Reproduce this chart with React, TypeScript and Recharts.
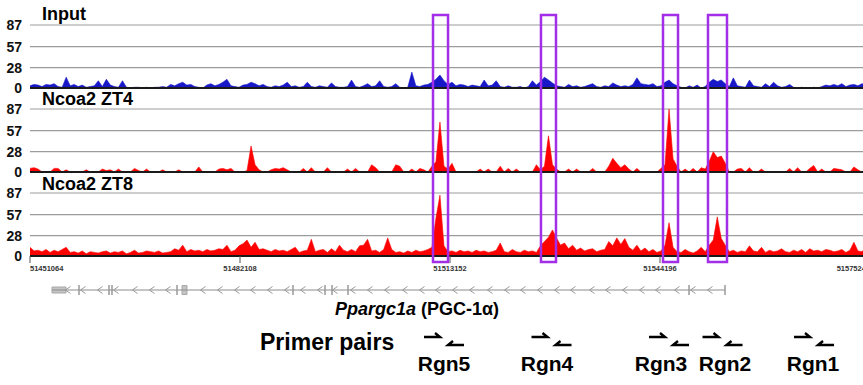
import {
  ComposedChart, Area, XAxis, YAxis, CartesianGrid, ReferenceLine, ReferenceArea, Scatter,
} from 'recharts';

document.body.style.margin = '0';

const FONT = '"Liberation Sans", Arial, sans-serif';

// genomic window shown (mm chr5)
const START = 51451064;
const END = 51575240;
const X_TICKS = [51451064, 51482108, 51513152, 51544196, 51575240];
const Y_TICKS = [0, 28, 57, 87];

const INPUT = [
  3, 5, 4, 2, 5, 4, 6, 2, 1, 15,
  3, 5, 2, 4, 1, 2, 3, 10, 2, 12,
  4, 2, 1, 10, 1, 0, 1, 1, 0, 1,
  0, 1, 1, 2, 1, 5, 3, 6, 8, 4,
  5, 2, 1, 0, 4, 6, 3, 5, 8, 12,
  3, 2, 1, 4, 5, 8, 6, 3, 5, 2,
  1, 3, 2, 4, 8, 2, 3, 1, 2, 8,
  2, 1, 3, 2, 1, 7, 2, 1, 1, 2,
  11, 2, 1, 3, 6, 2, 3, 10, 2, 1,
  2, 6, 1, 0, 1, 22, 3, 2, 4, 5,
  8, 12, 18, 10, 5, 8, 3, 5, 4, 2,
  4, 3, 2, 11, 3, 4, 10, 2, 1, 3,
  1, 1, 2, 0, 2, 10, 4, 9, 15, 11,
  7, 3, 2, 1, 5, 2, 3, 1, 2, 4,
  6, 2, 1, 3, 2, 7, 4, 2, 3, 2,
  5, 14, 6, 5, 4, 6, 2, 3, 8, 11,
  6, 3, 1, 0, 3, 1, 4, 0, 2, 8,
  12, 9, 11, 6, 2, 14, 3, 2, 1, 11,
  3, 2, 1, 6, 2, 8, 3, 1, 2, 5,
  1, 0, 1, 0, 0, 1, 0, 2, 4, 3,
  5, 3, 6, 2, 4, 5, 3, 6, 4, 3,
];

const ZT4 = [
  5, 6, 4, 0, 0, 0, 5, 5, 0, 3,
  0, 0, 0, 0, 3, 0, 0, 0, 4, 2,
  3, 0, 4, 0, 0, 0, 5, 2, 0, 4,
  0, 0, 0, 3, 0, 0, 0, 3, 0, 0,
  0, 0, 7, 0, 0, 0, 0, 4, 5, 3,
  5, 0, 0, 0, 2, 36, 10, 3, 0, 0,
  3, 5, 4, 6, 3, 0, 0, 0, 5, 0,
  6, 0, 0, 0, 6, 0, 0, 0, 0, 4,
  0, 5, 0, 0, 0, 10, 6, 0, 0, 0,
  0, 10, 8, 0, 0, 4, 0, 5, 3, 0,
  8, 14, 69, 8, 4, 12, 0, 0, 0, 0,
  0, 0, 4, 0, 4, 0, 0, 8, 0, 5,
  0, 4, 0, 0, 0, 0, 10, 3, 8, 50,
  10, 4, 0, 0, 4, 0, 4, 0, 0, 0,
  5, 0, 0, 0, 8, 19, 12, 6, 10, 4,
  0, 5, 0, 0, 0, 0, 0, 5, 10, 87,
  18, 8, 0, 4, 0, 5, 0, 6, 4, 15,
  28, 20, 22, 12, 0, 0, 4, 5, 0, 6,
  0, 0, 4, 0, 0, 0, 0, 0, 0, 5,
  0, 6, 0, 0, 5, 9, 0, 4, 0, 0,
  5, 4, 3, 0, 0, 7, 3, 0, 0, 0,
];

const ZT8 = [
  12, 7, 8, 6, 9, 5, 8, 6, 9, 12,
  5, 6, 4, 7, 3, 6, 5, 4, 6, 7,
  4, 6, 5, 7, 3, 5, 8, 4, 5, 7,
  6, 5, 7, 4, 5, 6, 10, 8, 15, 6,
  9, 7, 8, 6, 9, 7, 8, 10, 9, 15,
  6, 8, 14, 17, 22, 12, 19, 9, 10, 8,
  6, 9, 7, 8, 6, 9, 12, 5, 7, 8,
  23, 6, 8, 9, 5, 10, 6, 15, 8, 6,
  9, 6, 14, 15, 23, 7, 8, 5, 9, 25,
  9, 5, 6, 4, 7, 5, 8, 6, 7, 9,
  12, 52, 84, 14, 6, 7, 5, 8, 6, 7,
  5, 8, 6, 7, 5, 6, 8, 18, 6, 5,
  9, 6, 5, 8, 6, 7, 5, 14, 20, 26,
  36, 25, 15, 18, 10, 15, 8, 11, 7, 9,
  10, 6, 8, 9, 20, 14, 25, 16, 24, 12,
  8, 15, 7, 11, 6, 9, 5, 7, 15, 46,
  12, 6, 5, 9, 6, 4, 7, 12, 6, 15,
  22, 54, 24, 15, 6, 8, 5, 7, 6, 14,
  7, 6, 12, 5, 8, 6, 7, 10, 6, 5,
  8, 6, 9, 5, 10, 7, 8, 6, 9, 8,
  6, 7, 9, 5, 8, 19, 7, 6, 12, 8,
];

// highlighted peak regions [from, to]
const BOXES = [
  [51510640, 51512860],
  [51526600, 51528820],
  [51544640, 51546860],
  [51551290, 51554100],
];

// Ppargc1a gene model
const GENE = [51454316, 51553806];
const UTR = [51454316, 51456386];
const EXON_BLOCK = [51473534, 51474273];
const EXONS = [51458308, 51462743, 51463186, 51472795, 51489943, 51494674, 51495709, 51498074, 51548484, 51553806];
const CHEVRONS = [
  51456682, 51458899, 51461412, 51463777, 51466586, 51469099, 51471465, 51476639, 51479152, 51481665,
  51484030, 51486543, 51489056, 51491422, 51493935, 51496152, 51498813, 51501326, 51503839, 51506500,
  51509013, 51511379, 51513892, 51516405, 51519066, 51521579, 51523944, 51526457, 51528970, 51531336,
  51534144, 51536510, 51539023, 51541536, 51543901, 51546710, 51549075, 51551588,
];

// primer pairs
const PRIMER_NAMES = ['Rgn5', 'Rgn4', 'Rgn3', 'Rgn2', 'Rgn1'];
const PRIMER_POS = [51512266, 51528157, 51545527, 51553436, 51566963];
const LABEL_POS = [51512266, 51527492, 51544345, 51553806, 51566815];

const STEP = (END - START) / (INPUT.length - 1);
const toRows = (vals: number[]) => vals.map((v, i) => ({ pos: START + i * STEP, v }));

const GENE_Y = 290;

function GenomeTick({ x, y, payload }: any) {
  const v = payload.value;
  const anchor = v === X_TICKS[0] ? 'start' : v === X_TICKS[X_TICKS.length - 1] ? 'end' : 'middle';
  return (
    <text x={x} y={y} dy={6} textAnchor={anchor} fontSize={7.5} fontWeight="bold" fill="#333" fontFamily={FONT}>
      {v}
    </text>
  );
}

function Track({ values, color, top, withAxis }: { values: number[]; color: string; top: number; withAxis?: boolean }) {
  return (
    <div style={{ position: 'absolute', left: 0, top }}>
      <ComposedChart width={870} height={withAxis ? 104 : 92} data={toRows(values)}
        margin={{ top: 21, right: 0, bottom: withAxis ? 0 : 8, left: 0 }}>
        <CartesianGrid vertical={false} stroke="#9c9c9c" strokeWidth={1.2} />
        <XAxis
          dataKey="pos" type="number" domain={[START, END]} ticks={X_TICKS} allowDataOverflow
          hide={!withAxis} height={20} axisLine={false} tickSize={7} tickLine={{ stroke: '#555' }}
          tick={<GenomeTick />} interval={0}
        />
        <YAxis
          domain={[0, 87]} ticks={Y_TICKS} width={30} allowDataOverflow axisLine={false} tickLine={false}
          tick={{ fontSize: 14, fontWeight: 'bold', fill: '#111', fontFamily: FONT }} interval={0}
        />
        <Area dataKey="v" type="linear" stroke={color} strokeWidth={0.6} fill={color} fillOpacity={1}
          dot={false} activeDot={false} isAnimationActive={false} />
        <ReferenceLine y={0} stroke="#1a1a1a" strokeWidth={2} />
      </ComposedChart>
    </div>
  );
}

const chevron = (p: any) => (
  <path d={`M${p.cx + 2.5},${p.cy - 3.5} L${p.cx - 2.5},${p.cy} L${p.cx + 2.5},${p.cy + 3.5}`} stroke="#999" strokeWidth={1} fill="none" />
);
const exonBar = (p: any) => (
  <line x1={p.cx} x2={p.cx} y1={p.cy - 5} y2={p.cy + 5} stroke="#999" strokeWidth={1.5} />
);
const primerPair = (p: any) => (
  <g stroke="#000" strokeWidth={2.4} fill="none" strokeLinecap="butt">
    <path d={`M${p.cx - 20},${p.cy} L${p.cx - 4},${p.cy} L${p.cx - 9},${p.cy - 4}`} />
    <path d={`M${p.cx + 20},${p.cy + 8} L${p.cx + 4},${p.cy + 8} L${p.cx + 9},${p.cy + 4}`} />
  </g>
);
const primerLabel = (p: any) => (
  <text x={p.cx} y={p.cy} textAnchor="middle" fontSize={21} fontWeight="bold" fill="#000" fontFamily={FONT}>
    {p.payload.name}
  </text>
);

export default function App() {
  const chevData = CHEVRONS.map((x) => ({ x, y: GENE_Y }));
  const exonData = EXONS.map((x) => ({ x, y: GENE_Y }));
  const primerData = PRIMER_POS.map((x) => ({ x, y: 337 }));
  const labelData = LABEL_POS.map((x, i) => ({ x, y: 371, name: PRIMER_NAMES[i] }));

  return (
    <div style={{ position: 'relative', width: 863, height: 385, overflow: 'hidden', background: '#fff', fontFamily: FONT }}>
      <Track values={INPUT} color="#1818c8" top={4} />
      <Track values={ZT4} color="#ff0000" top={88} />
      <Track values={ZT8} color="#ff0000" top={172} withAxis />

      <svg width={863} height={385} style={{ position: 'absolute', left: 0, top: 0 }}>
        <g fontFamily={FONT} fontWeight="bold" fill="#000">
          <text x={42} y={20} fontSize={18}>Input</text>
          <text x={42} y={105} fontSize={18}>Ncoa2 ZT4</text>
          <text x={42} y={190} fontSize={18}>Ncoa2 ZT8</text>
          <text x={335} y={315} fontSize={18}>
            <tspan fontStyle="italic">Ppargc1a</tspan>
            <tspan> (PGC-1α)</tspan>
          </text>
          <text x={260} y={350} fontSize={23}>Primer pairs</text>
        </g>
      </svg>

      <div style={{ position: 'absolute', left: 0, top: 0 }}>
        <ComposedChart width={870} height={385} margin={{ top: 0, right: 0, bottom: 0, left: 30 }}>
          <XAxis dataKey="x" type="number" domain={[START, END]} hide allowDataOverflow />
          <YAxis dataKey="y" type="number" domain={[0, 385]} reversed hide allowDataOverflow />
          {BOXES.map(([a, b]) => (
            <ReferenceArea key={a} x1={a} x2={b} y1={15} y2={262} fill="none" fillOpacity={0}
              stroke="#a22ee8" strokeWidth={2.5} ifOverflow="visible" />
          ))}
          <ReferenceLine segment={[{ x: GENE[0], y: GENE_Y }, { x: GENE[1], y: GENE_Y }]} stroke="#8c8c8c" strokeWidth={1} />
          <ReferenceArea x1={UTR[0]} x2={UTR[1]} y1={GENE_Y - 3} y2={GENE_Y + 3} fill="#c4c4c4" fillOpacity={1} stroke="#a8a8a8" />
          <ReferenceArea x1={EXON_BLOCK[0]} x2={EXON_BLOCK[1]} y1={GENE_Y - 4.5} y2={GENE_Y + 4.5} fill="#c4c4c4" fillOpacity={1} stroke="#a8a8a8" />
          <Scatter data={chevData} shape={chevron} isAnimationActive={false} />
          <Scatter data={exonData} shape={exonBar} isAnimationActive={false} />
          <Scatter data={primerData} shape={primerPair} isAnimationActive={false} />
          <Scatter data={labelData} shape={primerLabel} isAnimationActive={false} />
        </ComposedChart>
      </div>
    </div>
  );
}
